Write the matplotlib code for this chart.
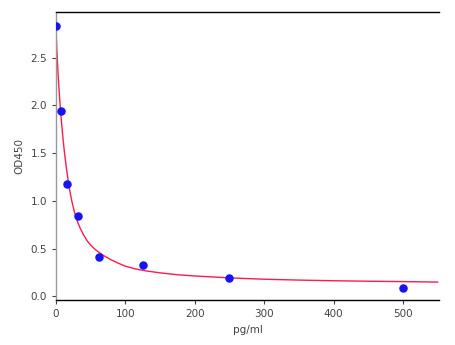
import numpy as np
import matplotlib
matplotlib.use('Agg')
from matplotlib import pyplot as plt

# Standard points
conc = [0, 7.8, 15.6, 31.25, 62.5, 125, 250, 500]
od = [2.83, 1.94, 1.18, 0.84, 0.41, 0.33, 0.19, 0.09]

# Fitted curve
curve_x = [0, 1, 2, 3, 4, 5, 6, 8, 10, 12, 14, 16, 18, 20, 23, 26, 30, 35, 40,
           45, 50, 55, 60, 70, 80, 90, 100, 115, 130, 150, 175, 200, 250, 300,
           350, 400, 450, 500, 550]
curve_y = [2.80, 2.62, 2.47, 2.33, 2.21, 2.10, 2.00, 1.82, 1.66, 1.52, 1.40,
           1.29, 1.19, 1.10, 0.99, 0.90, 0.80, 0.71, 0.64, 0.58, 0.535, 0.50,
           0.47, 0.42, 0.38, 0.345, 0.315, 0.285, 0.265, 0.245, 0.225, 0.212,
           0.192, 0.178, 0.169, 0.162, 0.157, 0.153, 0.148]

fig = plt.figure(figsize=[4.56, 3.45], dpi=100)
ax = fig.add_axes([0.1228, 0.1304, 0.8399, 0.8348])

ax.plot(curve_x, curve_y, color='#ff1a4a', lw=1.0, zorder=2)
ax.scatter(conc, od, s=26, color='#1414f5', zorder=3)

ax.set_xlim(0, 552)
ax.set_ylim(-0.04, 2.98)
ax.set_xticks([0, 100, 200, 300, 400, 500])
ax.set_yticks([0.0, 0.5, 1.0, 1.5, 2.0, 2.5])
ax.set_yticklabels(['0.0', '0.5', '1.0', '1.5', '2.0', '2.5'])

ax.spines['right'].set_visible(False)
ax.spines['left'].set_color('#999999')
ax.spines['top'].set_color('black')
ax.spines['bottom'].set_color('black')
for s in ax.spines.values():
    s.set_linewidth(1.0)

ax.tick_params(labelsize=7.5, colors='#444444', length=3, width=0.8)
ax.set_xlabel('pg/ml', fontsize=7.5, color='#444444')
ax.set_ylabel('OD450', fontsize=7.5, color='#444444')

fig.savefig('out.png', dpi=100)
